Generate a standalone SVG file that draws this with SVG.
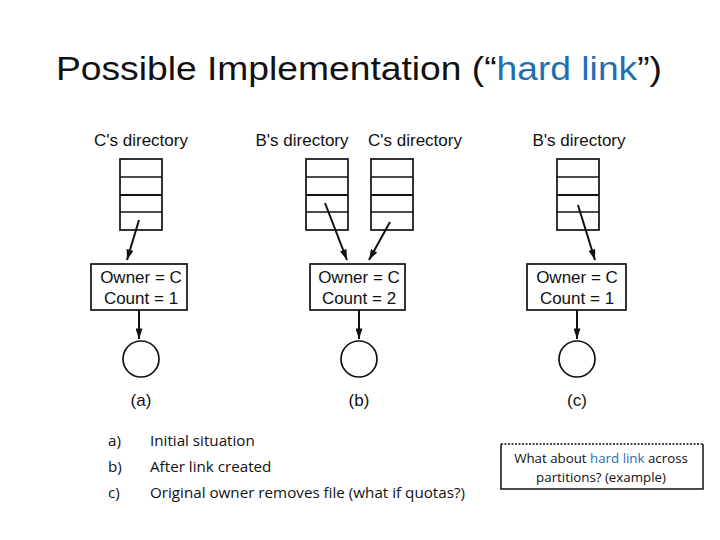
<svg xmlns="http://www.w3.org/2000/svg" width="720" height="540" viewBox="0 0 720 540">
<style>
.lbl{font-family:"Liberation Sans",Arial,sans-serif;font-size:17px;fill:#111;text-anchor:middle}
.box{fill:#fff;stroke:#111;stroke-width:1.7}
.con{stroke:#111;stroke-width:2;fill:none;marker-end:url(#ah)}
.txt{font-family:"Open Sans","Noto Sans",sans-serif;font-size:15.2px;fill:#111}
.blue{fill:#1f6fb0}
</style>
<defs>
<marker id="ah" viewBox="0 0 12 8" refX="12" refY="4" markerWidth="11" markerHeight="7" markerUnits="userSpaceOnUse" orient="auto">
<path d="M0,0 L12,4 L0,8 z" fill="#111"/>
</marker>
<g id="dir">
<rect x="0" y="0" width="42" height="71" class="box"/>
<line x1="0" y1="18" x2="42" y2="18" stroke="#111" stroke-width="1.6"/>
<line x1="0" y1="36" x2="42" y2="36" stroke="#111" stroke-width="1.8"/>
<line x1="0" y1="53" x2="42" y2="53" stroke="#111" stroke-width="1.6"/>
</g>
</defs>
<rect width="720" height="540" fill="#fff"/>
<text x="359" y="80" font-family="'Liberation Sans',Arial,sans-serif" font-size="34" fill="#111" text-anchor="middle" textLength="606" lengthAdjust="spacingAndGlyphs">Possible Implementation (“<tspan class="blue">hard link</tspan>”)</text>

<g id="a">
<text class="lbl" x="141" y="146">C's directory</text>
<use href="#dir" x="120" y="159"/>
<rect class="box" x="91" y="264" width="96" height="46"/>
<text class="lbl" x="141" y="283">Owner = C</text>
<text class="lbl" x="141" y="304">Count = 1</text>
<circle cx="141" cy="359" r="18" class="box"/>
<text class="lbl" x="141" y="406">(a)</text>
</g>
<g id="b">
<text class="lbl" x="302" y="146">B's directory</text>
<text class="lbl" x="415" y="146">C's directory</text>
<use href="#dir" x="306" y="159"/>
<use href="#dir" x="371" y="159"/>
<rect class="box" x="310" y="264" width="95" height="46"/>
<text class="lbl" x="359" y="283">Owner = C</text>
<text class="lbl" x="359" y="304">Count = 2</text>
<circle cx="359" cy="359" r="18" class="box"/>
<text class="lbl" x="359" y="406">(b)</text>
</g>
<g id="c">
<text class="lbl" x="579" y="146">B's directory</text>
<use href="#dir" x="557" y="159"/>
<rect class="box" x="527" y="264" width="99" height="46"/>
<text class="lbl" x="577" y="283">Owner = C</text>
<text class="lbl" x="577" y="304">Count = 1</text>
<circle cx="577" cy="359" r="18" class="box"/>
<text class="lbl" x="577" y="406">(c)</text>
</g>
<g id="connectors">
<line class="con" x1="139" y1="220" x2="127" y2="260"/>
<line class="con" x1="139" y1="310" x2="139" y2="339"/>
<line class="con" x1="325" y1="203" x2="347" y2="260"/>
<line class="con" x1="390" y1="222" x2="369" y2="260"/>
<line class="con" x1="359" y1="310" x2="359" y2="339"/>
<line class="con" x1="578" y1="205" x2="595" y2="260"/>
<line class="con" x1="577" y1="310" x2="577" y2="339"/>
</g>
<g id="legend">
<text class="txt" x="108" y="446">a)</text>
<text class="txt" x="150" y="446">Initial situation</text>
<text class="txt" x="108" y="472">b)</text>
<text class="txt" x="150" y="472">After link created</text>
<text class="txt" x="108" y="498">c)</text>
<text class="txt" x="150" y="498">Original owner removes file (what if quotas?)</text>
</g>
<g id="note">
<line x1="501" y1="444" x2="703" y2="444" stroke="#111" stroke-width="1.5" stroke-dasharray="2,1.5"/>
<path d="M501,444 V489 H703 V444" fill="none" stroke="#111" stroke-width="1.5"/>
<text x="601" y="463" font-family="'Open Sans','Noto Sans',sans-serif" font-size="13.3" fill="#111" text-anchor="middle">What about <tspan class="blue">hard link</tspan> across</text>
<text x="601" y="482" font-family="'Open Sans','Noto Sans',sans-serif" font-size="13.3" fill="#111" text-anchor="middle">partitions? (example)</text>
</g>
</svg>
